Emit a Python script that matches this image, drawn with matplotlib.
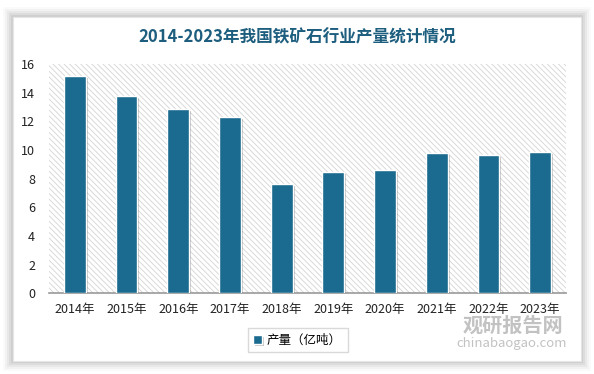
import matplotlib
matplotlib.use("Agg")
import matplotlib.pyplot as plt
import matplotlib.patheffects as pe
from matplotlib.patches import Rectangle

plt.rcParams['font.family'] = ['Noto Sans CJK SC', 'DejaVu Sans']
plt.rcParams['hatch.linewidth'] = 0.6
plt.rcParams['hatch.color'] = '#d4d4d4'

years = ['2014年', '2015年', '2016年', '2017年', '2018年', '2019年', '2020年', '2021年', '2022年', '2023年']
output = [15.14, 13.79, 12.84, 12.28, 7.61, 8.44, 8.63, 9.81, 9.67, 9.88]
yticks = [0, 2, 4, 6, 8, 10, 12, 14, 16]
title = '2014-2023年我国铁矿石行业产量统计情况'
series_name = '产量（亿吨）'

W, H = 594, 374
fig = plt.figure(figsize=(W / 100, H / 100), dpi=100)
fig.patch.set_facecolor('white')

# card with soft shadow
for i, a in enumerate([0.02, 0.03, 0.04, 0.05, 0.06]):
    d = (5 - i) * 2
    fig.patches.append(Rectangle(((13 - d) / W, (374 - 361 - d) / H), (568 + 2 * d) / W, (344 + 2 * d) / H,
                                 transform=fig.transFigure, facecolor='black', alpha=a, edgecolor='none', zorder=0))
fig.patches.append(Rectangle((13 / W, (374 - 361) / H), 568 / W, 344 / H, transform=fig.transFigure,
                             facecolor='white', edgecolor='#e6e6e6', linewidth=0.8, zorder=1))

ax = fig.add_axes([49 / W, (374 - 293.3) / H, 517 / W, 229.3 / H])
ax.set_zorder(2)
ax.patch.set_alpha(0)
ax.add_patch(Rectangle((0, 0), 1, 1, transform=ax.transAxes, facecolor='white', edgecolor='#d4d4d4',
                       hatch='\\\\\\\\\\\\', linewidth=0, zorder=0))

x = list(range(len(years)))
bars = ax.bar(x, output, width=0.42, color='#1b6a8f', edgecolor='white', linewidth=1.0, zorder=3,
              label=series_name)
for b in bars:
    b.set_path_effects([pe.SimplePatchShadow(offset=(1.5, -1.5), shadow_rgbFace='black', alpha=0.22),
                        pe.Normal()])

ax.set_xlim(-0.5, len(years) - 0.5)
ax.set_ylim(0, 16)
ax.set_yticks(yticks)
ax.set_yticklabels([str(v) for v in yticks], fontsize=9, color='#222222')
ax.set_xticks(x)
ax.set_xticklabels(years, fontsize=9, color='#222222')
ax.tick_params(axis='both', length=0)
ax.tick_params(axis='y', pad=10)
ax.tick_params(axis='x', pad=7)
for s in ['top', 'right', 'left']:
    ax.spines[s].set_visible(False)
ax.spines['bottom'].set_color('#999999')
ax.spines['bottom'].set_linewidth(1.2)

fig.text(297 / W, 1 - 37 / H, title, ha='center', va='center', fontsize=12, fontweight='bold',
         color='#1d5e7e', zorder=5)

leg = fig.legend(handles=[bars], labels=[series_name], loc='center', bbox_to_anchor=(297.5 / W, 1 - 340 / H),
                 frameon=True, fancybox=False, fontsize=9, handlelength=0.7, handleheight=0.7,
                 handletextpad=0.4, borderpad=0.45)
leg.get_frame().set_edgecolor('#d0d0d0')
leg.get_frame().set_linewidth(1.0)
leg.set_zorder(5)

# watermark
fig.text(513 / W, 1 - 325 / H, '观研报告网', ha='center', va='center', fontsize=14.5, fontweight='bold',
         color='#9a9a9a', alpha=0.6, zorder=6)
fig.text(512 / W, 1 - 343 / H, 'chinabaogao.com', ha='center', va='center', fontsize=9.5,
         color='#9a9a9a', alpha=0.6, zorder=6)

fig.savefig('out.png', dpi=100, facecolor='white')
